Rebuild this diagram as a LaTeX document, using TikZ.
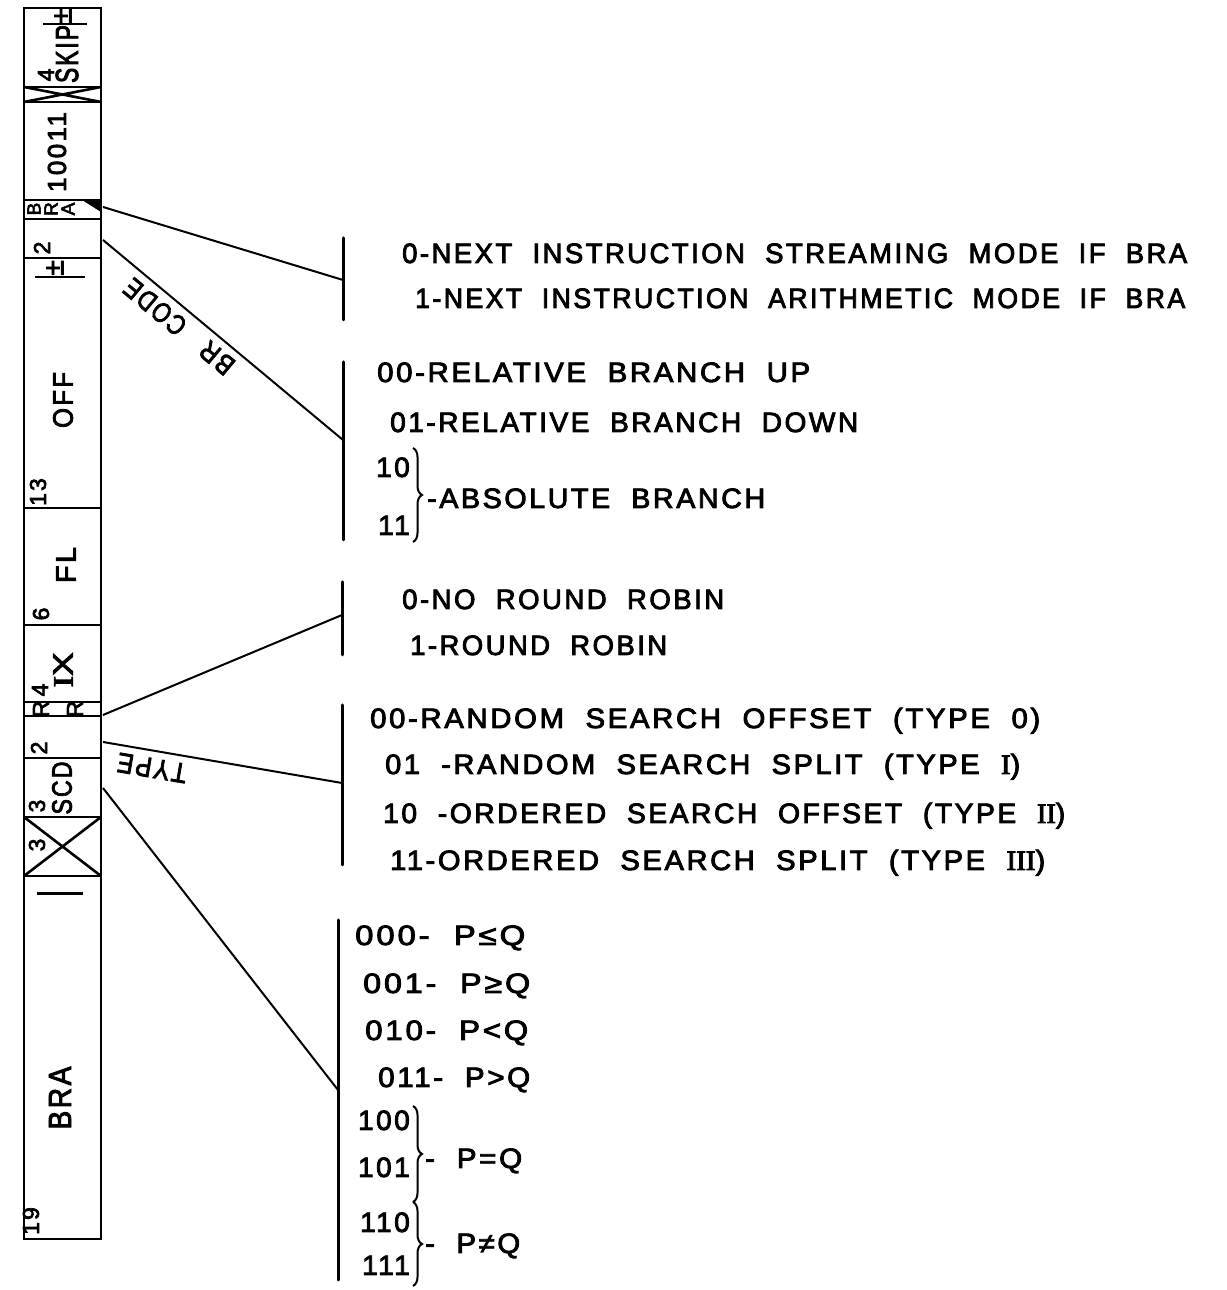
\documentclass[tikz,border=0pt]{standalone}
\usepackage{fontspec}
\usepackage{graphicx}
\usetikzlibrary{decorations.pathreplacing}
\newfontfamily\lr[LetterSpace=9,WordSpace=2,FakeBold=3]{Liberation Sans}
\newfontfamily\lrs[FakeBold=3]{Liberation Serif}
\newcommand\fitw[2]{\resizebox{#1pt}{\height}{#2}}
\begin{document}
\begin{tikzpicture}[x=1pt,y=1pt,
  txt/.style={anchor=base west, inner sep=0pt, font=\lr\fontsize{28}{30}\selectfont},
  dig/.style={anchor=base east, inner sep=0pt, font=\lr\fontsize{28}{30}\selectfont},
  vtxt/.style={rotate=90, inner sep=0pt, font=\lr\fontsize{28}{30}\selectfont},
  vbig/.style={rotate=90, inner sep=0pt, font=\lr\fontsize{32}{34}\selectfont},
  vnum/.style={rotate=90, inner sep=0pt, font=\lr\fontsize{23}{25}\selectfont},
  colline/.style={line width=2.6pt},
  conn/.style={line width=2pt},
  vbar/.style={line width=3pt, line cap=round},
  br/.style={decorate, decoration={brace, amplitude=9pt}, line width=2pt},
  slab/.style={inner sep=0pt, font=\lr\fontsize{28}{30}\selectfont},
]
\useasboundingbox (0,0) rectangle (1226,1290);
\fill[white] (0,0) rectangle (1226,1290);

% ---------- column ----------
\draw[colline] (24,51) rectangle (101,1282);
\foreach \yy in {1203,1188,1090,1071,1032,782,665,588,574,532,473,414}
  \draw[colline] (24,\yy) -- (101,\yy);
\draw[colline] (24,1203) -- (101,1188) (24,1188) -- (101,1203);
\draw[colline] (24,473) -- (101,414) (24,414) -- (101,473);
\fill (82,1090) -- (101,1090) -- (101,1078) -- cycle;

% SKIP field
\node[vbig] (skip) at (67,1236) {\fitw{58}{SKIP}};
\node[vnum] (skipn) at (46,1215) {4};
\node[vtxt] (skippm) at (63,1274) {±};
\draw[line width=2pt] (43,1266) -- (87,1266);
% opcode
\node[vtxt, font=\lr\fontsize{26}{28}\selectfont] (opc) at (57,1138) {\fitw{80}{10011}};
% BRA bit
\node[rotate=90, inner sep=0pt, align=center, font=\lr\fontsize{19}{17}\selectfont] (braf) at (51,1081) {B\\R\\A};
% BR CODE
\node[vnum] (n2a) at (42,1042) {2};
% OFF
\node[vtxt] (offpm) at (55,1022) {±};
\draw[line width=2pt] (35,1013) -- (85,1013);
\node[vtxt] (off) at (63,890) {\fitw{56}{OFF}};
\node[vnum] (n13) at (38,798) {13};
% FL
\node[vtxt] (fl) at (66,725) {\fitw{36}{FL}};
\node[vnum] (n6) at (41,676) {6};
% IX
\node[vtxt] (ix) at (63,620) {\fitw{35}{{\lrs I}X}};
\node[vnum] (n4b) at (40,600) {4};
% RR
\node[vnum] (rr1) at (41,581) {R};
\node[vnum] (rr2) at (75,581) {R};
% TYPE bits
\node[vnum] (n2b) at (39,542) {2};
% SCD
\node[vtxt] (scd) at (62,502) {\fitw{53}{SCD}};
\node[vnum] (n3a) at (37,484) {3};
\node[vnum] (n3b) at (37,445) {3};
\draw[line width=3pt] (37,396) -- (83,396);
% BRA address
\node[vbig] (bra) at (60,192) {\fitw{63}{BRA}};
\node[vnum] (n19) at (31,69) {19};

% ---------- connector points ----------
\coordinate (pBRA) at (103,1083);
\coordinate (pBRC) at (103,1050);
\coordinate (pRR)  at (103,575);
\coordinate (pTYP) at (103,548);
\coordinate (pSCD) at (103,502);
\coordinate (b1) at (343,1010);
\coordinate (b2) at (343,850);
\coordinate (b3) at (342,675);
\coordinate (b4) at (342,507);
\coordinate (b5) at (338,200);
\coordinate (b1t) at (343,1052); \coordinate (b1b) at (343,970);
\coordinate (b2t) at (343,928);  \coordinate (b2b) at (343,750);
\coordinate (b3t) at (342,708);  \coordinate (b3b) at (342,635);
\coordinate (b4t) at (342,585);  \coordinate (b4b) at (342,425);
\coordinate (b5t) at (338,370);  \coordinate (b5b) at (338,10);

\draw[vbar] (b1t) -- (b1b);
\draw[vbar] (b2t) -- (b2b);
\draw[vbar] (b3t) -- (b3b);
\draw[vbar] (b4t) -- (b4b);
\draw[vbar] (b5t) -- (b5b);

\draw[conn] (pBRA) -- (b1);
\draw[conn] (pBRC) -- (b2);
\draw[conn] (pRR) -- (b3);
\draw[conn] (pTYP) -- (b4);
\draw[conn] (pSCD) -- (b5);

\node[slab, rotate=140.2] (lcode) at (155,983) {\fitw{72}{CODE}};
\node[slab, rotate=140.2] (lbr) at (217,932) {\fitw{36}{BR}};
\node[slab, rotate=170.3] (typel) at (152,522) {\fitw{70}{TYPE}};

% ---------- right texts ----------
\node[txt] (t1) at (402,1027) {\fitw{785}{0-NEXT INSTRUCTION STREAMING MODE IF BRA}};
\node[txt] (t2) at (415,982) {\fitw{770}{1-NEXT INSTRUCTION ARITHMETIC MODE IF BRA}};

\node[txt] (t3) at (377,908) {\fitw{433}{00-RELATIVE BRANCH UP}};
\node[txt] (t4) at (390,858) {\fitw{468}{01-RELATIVE BRANCH DOWN}};
\node[dig] (t5a) at (410,813) {10};
\node[dig] (t5b) at (410,755) {11};
\draw[br] (413,842) -- (413,748);
\node[txt] (t5) at (427,782) {\fitw{338}{-ABSOLUTE BRANCH}};

\node[txt] (t6) at (402,681) {\fitw{322}{0-NO ROUND ROBIN}};
\node[txt] (t7) at (410,635) {\fitw{257}{1-ROUND ROBIN}};

\node[txt] (t8) at (370,562) {\fitw{670}{00-RANDOM SEARCH OFFSET (TYPE 0)}};
\node[txt] (t9) at (385,516) {\fitw{635}{01 -RANDOM SEARCH SPLIT (TYPE {\lrs I})}};
\node[txt] (t10) at (383,467) {\fitw{682}{10 -ORDERED SEARCH OFFSET (TYPE {\lrs II})}};
\node[txt] (t11) at (390,420) {\fitw{655}{11-ORDERED SEARCH SPLIT (TYPE {\lrs III})}};

\node[txt] (c1) at (355,345) {\fitw{170}{000- P≤Q}};
\node[txt] (c2) at (363,297) {\fitw{167}{001- P≥Q}};
\node[txt] (c3) at (365,250) {\fitw{163}{010- P<Q}};
\node[txt] (c4) at (378,203) {\fitw{152}{011- P>Q}};
\node[dig] (c5a) at (410,160) {100};
\node[dig] (c5b) at (410,113) {101};
\draw[br] (413,184) -- (413,88);
\node[txt] (c5) at (425,122) {\fitw{97}{- P=Q}};
\node[dig] (c6a) at (410,58) {110};
\node[dig] (c6b) at (410,15) {111};
\draw[br] (413,88) -- (413,4);
\node[txt] (c6) at (425,37) {\fitw{95}{- P≠Q}};
\end{tikzpicture}
\end{document}
